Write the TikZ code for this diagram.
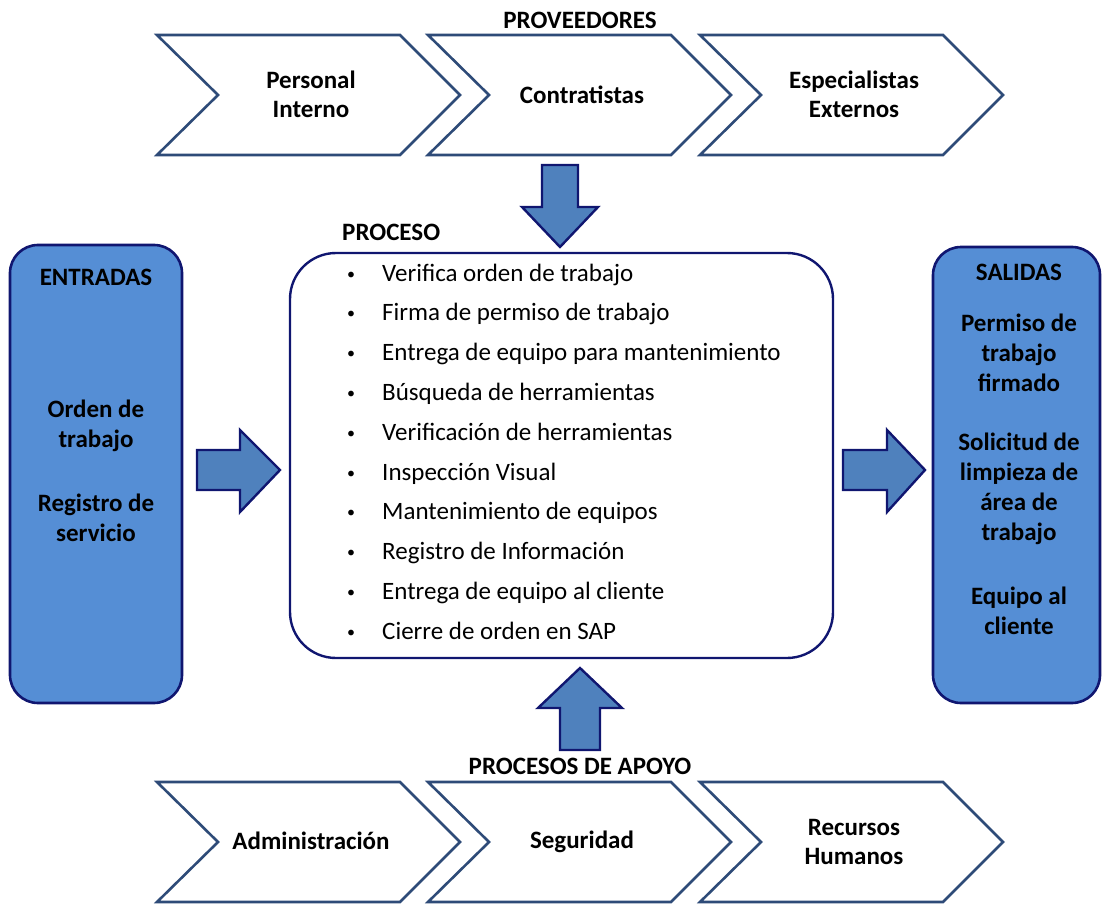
\documentclass[tikz,border=0pt]{standalone}
\usepackage{fontspec}
\setmainfont{Carlito}
\definecolor{chev}{RGB}{46,75,120}
\definecolor{navy}{RGB}{16,22,112}
\definecolor{boxfill}{RGB}{85,142,213}
\definecolor{arrfill}{RGB}{79,129,189}
\tikzset{
  chevshape/.style={draw=chev, line width=2.6pt, fill=white, line join=miter},
  lbl/.style={font=\fontsize{25}{29}\selectfont\bfseries, align=center, text=black, inner sep=0pt},
  sidebox/.style={draw=navy, line width=2.6pt, fill=boxfill, rounded corners=28pt},
  procbox/.style={draw=navy, line width=2.4pt, fill=white, rounded corners=46pt},
  blockarrow/.style={draw=navy, line width=2.4pt, fill=arrfill, line join=miter},
  item/.style={font=\fontsize{25}{29}\selectfont, anchor=base west, inner sep=0pt},
  bul/.style={font=\fontsize{16}{20}\selectfont, anchor=base, inner sep=0pt}
}
\newcommand{\chevronat}[2]{%
  \draw[chevshape] (#1,#2) -- ++(243,0) -- ++(60,60) -- ++(-60,60) -- ++(-243,0) -- ++(61,-60) -- cycle;}
\begin{document}
\begin{tikzpicture}[x=1pt,y=-1pt]
\useasboundingbox (0,0) rectangle (1102,904);
% top chevrons
\chevronat{157}{35}
\chevronat{428}{35}
\chevronat{700}{35}
\node[lbl] (prov) at (580,20) {PROVEEDORES};
\node[lbl] (c1) at (311,94) {Personal\\Interno};
\node[lbl] (c2) at (582,95) {Contratistas};
\node[lbl] (c3) at (854,94) {Especialistas\\Externos};
% bottom chevrons
\chevronat{157}{782}
\chevronat{428}{782}
\chevronat{700}{782}
\node[lbl] (apoyo) at (580,766) {PROCESOS DE APOYO};
\node[lbl] (b1) at (311,841) {Administración};
\node[lbl] (b2) at (582,842) {Seguridad};
\node[lbl] (b3) at (854,842) {Recursos\\Humanos};
% side boxes
\draw[sidebox] (10,245) rectangle (182,703);
\node[lbl] (ent) at (96,277) {ENTRADAS};
\node[lbl, font=\fontsize{25}{30}\selectfont\bfseries] (ent1) at (96,426) {Orden de\\trabajo};
\node[lbl, font=\fontsize{25}{30}\selectfont\bfseries] (ent2) at (96,518) {Registro de\\servicio};
\draw[sidebox] (933,247) rectangle (1100,703);
\node[lbl] (sal) at (1019,272) {SALIDAS};
\node[lbl, font=\fontsize{25}{30}\selectfont\bfseries] (sal1) at (1019,353) {Permiso de\\trabajo\\firmado};
\node[lbl, font=\fontsize{25}{30}\selectfont\bfseries] (sal2) at (1019,489) {Solicitud de\\limpieza de\\área de\\trabajo};
\node[lbl, font=\fontsize{25}{30}\selectfont\bfseries] (sal3) at (1019,611) {Equipo al\\cliente};
% process box
\draw[procbox] (290,253) rectangle (833,658);
\node[lbl, anchor=west] (proc) at (342,232) {PROCESO};
\foreach \t [count=\i from 0] in {Verifica orden de trabajo, Firma de permiso de trabajo, Entrega de equipo para mantenimiento, Búsqueda de herramientas, Verificación de herramientas, Inspección Visual, Mantenimiento de equipos, Registro de Información, Entrega de equipo al cliente, Cierre de orden en SAP}{
  \node[bul] (b\i) at (351,{279+39.8*\i}) {•};
  \node[item] (p\i) at (382,{281+39.8*\i}) {\t};
}
% block arrows
\draw[blockarrow] (197,450) -- (240,450) -- (240,430) -- (280,470) -- (240,512) -- (240,490) -- (197,490) -- cycle;
\draw[blockarrow] (843,450) -- (887,450) -- (887,430) -- (925,470) -- (887,512) -- (887,490) -- (843,490) -- cycle;
\draw[blockarrow] (542,165) -- (578,165) -- (578,207) -- (598,207) -- (560,247) -- (522,207) -- (542,207) -- cycle;
\draw[blockarrow] (560,750) -- (600,750) -- (600,708) -- (622,708) -- (580,668) -- (538,708) -- (560,708) -- cycle;
\end{tikzpicture}
\end{document}
